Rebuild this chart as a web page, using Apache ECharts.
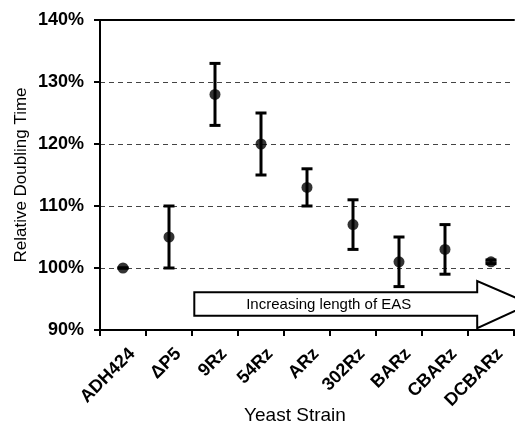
<!DOCTYPE html>
<html>
<head>
<meta charset="utf-8">
<script src="https://cdn.jsdelivr.net/npm/echarts@6/dist/echarts.min.js"></script>
<style>
  html, body { margin: 0; padding: 0; background: #fff; }
  #chart { width: 515px; height: 423px; }
</style>
</head>
<body>
<div id="chart"></div>
<script>
const strains = ['ADH424', '\u0394P5', '9Rz', '54Rz', 'ARz', '302Rz', 'BARz', 'CBARz', 'DCBARz'];
const meanTime = [100, 105, 128, 120, 113, 107, 101, 103, 101];
const errLow = [100, 100, 123, 115, 110, 103, 97, 99, 100.7];
const errHigh = [100, 110, 133, 125, 116, 111, 105, 107, 101.3];
const yTicks = [90, 100, 110, 120, 130, 140];
const arrowText = 'Increasing length of EAS';

const chart = echarts.init(document.getElementById('chart'));

const errData = strains.map((s, i) => [i, errLow[i], errHigh[i]]);

chart.setOption({
  animation: false,
  grid: { left: 100, right: 1, top: 20, bottom: 93, outerBoundsMode: 'none', containLabel: false },
  xAxis: [{
    type: 'category',
    data: strains,
    name: 'Yeast Strain',
    nameLocation: 'middle',
    nameGap: 76,
    nameMoveOverlap: false,
    nameTextStyle: { fontFamily: 'Liberation Sans, Arial', fontSize: 19, color: '#000', padding: [0, 24, 0, 0] },
    axisLine: { lineStyle: { color: '#000', width: 2 } },
    axisTick: { show: true, length: 6, lineStyle: { color: '#000', width: 2 } },
    axisLabel: {
      rotate: 45, margin: 12, color: '#000',
      verticalAlign: 'top', padding: [4, 0, 0, 0],
      fontFamily: 'Liberation Sans, Arial', fontWeight: 'bold', fontSize: 18
    }
  }, {
    type: 'category',
    data: strains,
    position: 'top',
    axisLine: { lineStyle: { color: '#000', width: 2 } },
    axisTick: { show: false },
    axisLabel: { show: false }
  }],
  yAxis: {
    type: 'value',
    min: 90, max: 140, interval: 10,
    name: 'Relative Doubling Time',
    nameLocation: 'middle',
    nameGap: 70,
    nameMoveOverlap: false,
    nameTextStyle: { fontFamily: 'Liberation Sans, Arial', fontSize: 17, color: '#000' },
    axisLine: { show: true, lineStyle: { color: '#000', width: 2 } },
    axisTick: { show: true, length: 6, lineStyle: { color: '#000', width: 2 } },
    axisLabel: {
      margin: 16, color: '#000',
      fontFamily: 'Liberation Sans, Arial', fontWeight: 'bold', fontSize: 18,
      formatter: v => yTicks.includes(v) ? v + '%' : ''
    },
    splitLine: { show: true, lineStyle: { color: '#444', type: [5, 4], width: 1 } }
  },
  series: [
    {
      type: 'custom',
      name: 'arrow',
      silent: true,
      z: 1,
      data: [[0]],
      renderItem(params, api) {
        const band = api.size([1, 0])[0];
        const x0 = api.coord([1, 100])[0] + 0.55 * band;
        const x1 = api.coord([8, 100])[0] - 0.3 * band;
        const tip = api.coord([8, 100])[0] + 0.85 * band;
        const bt = api.coord([0, 96.1])[1];
        const bb = api.coord([0, 92.3])[1];
        const ht = api.coord([0, 97.9])[1];
        const hb = api.coord([0, 90.3])[1];
        const mid = (bt + bb) / 2;
        return {
          type: 'group',
          children: [{
            type: 'polygon',
            shape: { points: [[x0, bt], [x1, bt], [x1, ht], [tip, mid], [x1, hb], [x1, bb], [x0, bb]] },
            style: { fill: '#fff', stroke: '#000', lineWidth: 2 }
          }, {
            type: 'text',
            style: {
              x: (x0 + x1) / 2 - 7, y: mid + 1,
              text: arrowText,
              fill: '#000',
              font: '15px "Liberation Sans Narrow", "Liberation Sans", sans-serif',
              align: 'center', verticalAlign: 'middle'
            }
          }]
        };
      }
    },
    {
      type: 'custom',
      name: 'error',
      z: 3,
      data: errData,
      renderItem(params, api) {
        const x = api.coord([api.value(0), api.value(1)])[0];
        const yl = api.coord([api.value(0), api.value(1)])[1];
        const yh = api.coord([api.value(0), api.value(2)])[1];
        const hw = 5.5;
        const st = { stroke: '#000', lineWidth: 3 };
        return {
          type: 'group',
          children: [
            { type: 'line', shape: { x1: x, y1: yl, x2: x, y2: yh }, style: st },
            { type: 'line', shape: { x1: x - hw, y1: yl, x2: x + hw, y2: yl }, style: st },
            { type: 'line', shape: { x1: x - hw, y1: yh, x2: x + hw, y2: yh }, style: st }
          ]
        };
      }
    },
    {
      type: 'scatter',
      name: 'mean',
      z: 4,
      symbol: 'circle',
      symbolSize: 11,
      itemStyle: { color: '#000' },
      data: meanTime
    }
  ]
});
</script>
</body>
</html>
